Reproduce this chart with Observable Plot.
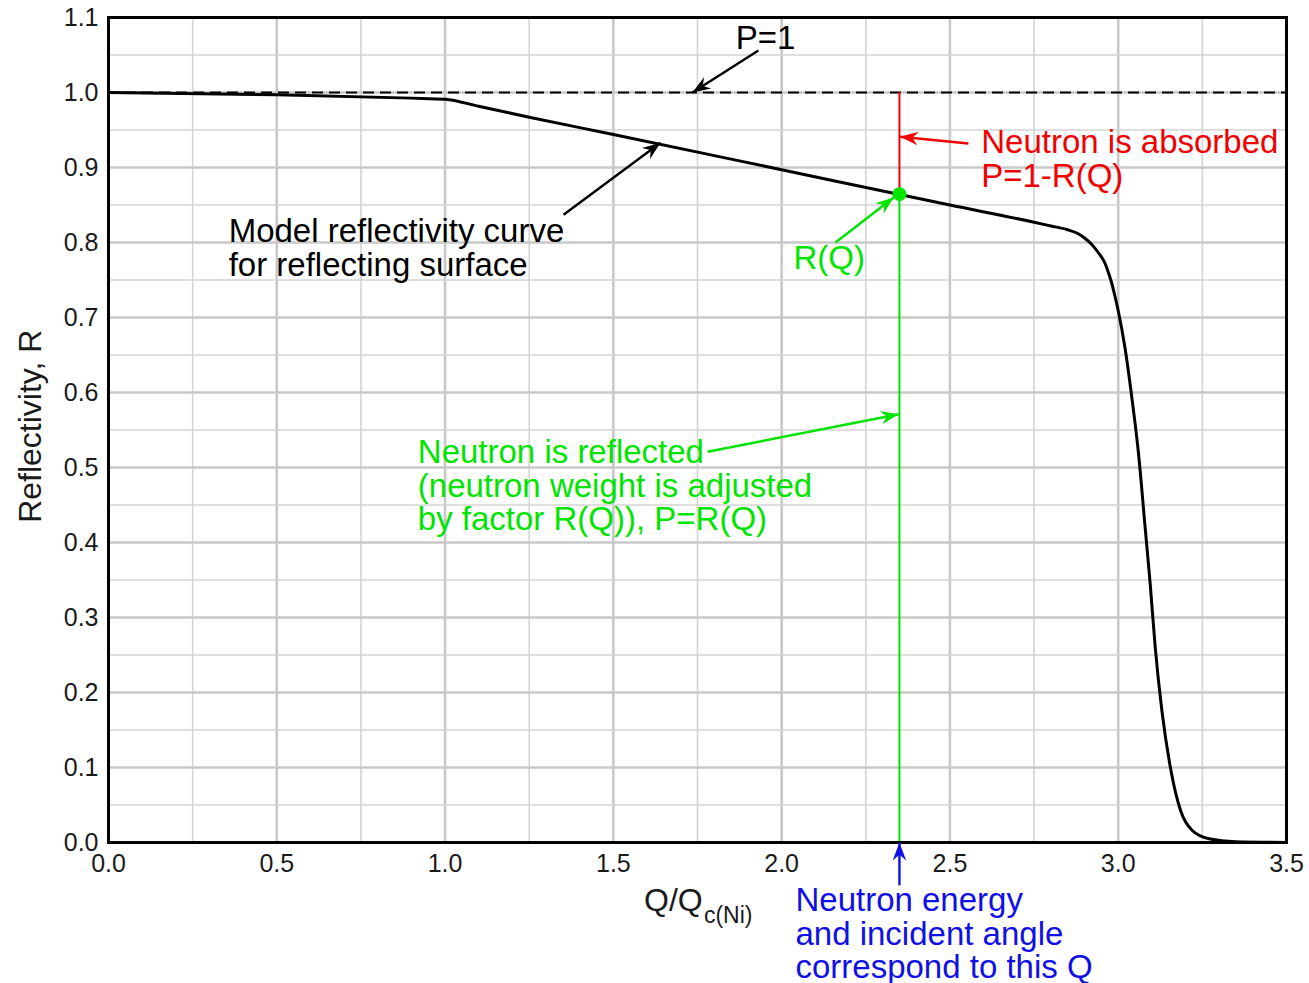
<!DOCTYPE html>
<html>
<head>
<meta charset="utf-8">
<script src="https://cdn.jsdelivr.net/npm/d3@7"></script>
<script src="https://cdn.jsdelivr.net/npm/@observablehq/plot@0.6"></script>
<style>
  html, body { margin: 0; padding: 0; background: white; }
  #chart svg { display: block; }
</style>
</head>
<body>
<div id="chart"></div>
<script>
// Model reflectivity curve R(Q)
const qValues = [0, 0.5, 0.9, 1.0, 1.1, 1.25, 1.5, 2.0, 2.5, 2.75, 2.8, 2.85, 2.88, 2.9, 2.92, 2.94, 2.96, 2.97, 2.98, 2.99, 3.0, 3.02, 3.04, 3.06, 3.08, 3.095, 3.11, 3.13, 3.155, 3.185, 3.22, 3.27, 3.35, 3.5];
const rValues = [1.0, 0.997, 0.9925, 0.991, 0.9816, 0.967, 0.944, 0.897, 0.850, 0.827, 0.822, 0.817, 0.812, 0.806, 0.798, 0.787, 0.773, 0.761, 0.747, 0.729, 0.709, 0.660, 0.595, 0.520, 0.420, 0.345, 0.260, 0.175, 0.100, 0.043, 0.016, 0.005, 0.001, 0.0];

// Axis ticks and grid
const xTicks = [0, 0.5, 1.0, 1.5, 2.0, 2.5, 3.0, 3.5];
const xMinor = [0.25, 0.75, 1.25, 1.75, 2.25, 2.75, 3.25];
const yTicks = [0, 0.1, 0.2, 0.3, 0.4, 0.5, 0.6, 0.7, 0.8, 0.9, 1.0, 1.1];
const yMinor = [0.05, 0.15, 0.25, 0.35, 0.45, 0.55, 0.65, 0.75, 0.85, 0.95, 1.05];

// Selected neutron Q and its reflectivity
const qSel = 2.35;
const rSel = 0.8645;
const pOne = 1.0;

// Annotation arrows (data coordinates: tail -> tip)
const arrows = [
  {x1: 1.931, y1: 1.056, x2: 1.735, y2: 1.0, color: "black"},
  {x1: 1.352, y1: 0.837, x2: 1.640, y2: 0.933, color: "black"},
  {x1: 2.555, y1: 0.932, x2: 2.352, y2: 0.941, color: "red"},
  {x1: 2.160, y1: 0.800, x2: 2.333, y2: 0.860, color: "green"},
  {x1: 1.780, y1: 0.521, x2: 2.348, y2: 0.571, color: "green"},
  {x1: qSel, y1: -0.057, x2: qSel, y2: 0.0, color: "blue"}
];

const curve = qValues.map((q, i) => ({q, r: rValues[i]}));

const GREEN = "#00e400";
const RED = "#f00000";
const BLUE = "#1010e6";
const colorOf = {black: "black", red: RED, green: GREEN, blue: BLUE};
const FONT = "'Liberation Sans', Arial, Helvetica, sans-serif";
const AF = 33; // annotation font size
const LH = 1.02;

const W = 1309, H = 983, ML = 108, MR = 23, MT = 17, MB = 141;
const kx = (W - ML - MR) / 3.5, ky = (H - MT - MB) / 1.1;
// screen angle of each arrow (for orienting the filled heads)
const angleOf = a => Math.atan2(-(a.y2 - a.y1) * ky, (a.x2 - a.x1) * kx) * 180 / Math.PI;

// filled concave arrowhead pointing along +x, tip at origin
const arrowHead = {
  draw(context, size) {
    const s = Math.sqrt(size / Math.PI);
    const L = 2.0 * s, w = 0.75 * s;
    context.moveTo(0, 0);
    context.lineTo(-L, -w);
    context.lineTo(-0.68 * L, 0);
    context.lineTo(-L, w);
    context.closePath();
  }
};

const chart = Plot.plot({
  width: W,
  height: H,
  marginLeft: ML,
  marginRight: MR,
  marginTop: MT,
  marginBottom: MB,
  style: {fontFamily: FONT, fontSize: "25px", color: "#1a1a1a", background: "white", overflow: "visible"},
  x: {domain: [0, 3.5], ticks: xTicks, tickFormat: d3.format(".1f"), tickSize: 0, tickPadding: 12, label: null},
  y: {domain: [0, 1.1], ticks: yTicks, tickFormat: d3.format(".1f"), tickSize: 0, tickPadding: 10, label: null},
  marks: [
    // grid
    Plot.ruleX(xMinor, {stroke: "#d4d4d4", strokeWidth: 1.6}),
    Plot.ruleX(xTicks, {stroke: "#c8c8c8", strokeWidth: 2.6}),
    Plot.ruleY(yMinor, {stroke: "#d4d4d4", strokeWidth: 1.6}),
    Plot.ruleY(yTicks, {stroke: "#c8c8c8", strokeWidth: 2.6}),
    // P = 1 dashed
    Plot.ruleY([pOne], {stroke: "black", strokeWidth: 2.2, strokeDasharray: "11,6"}),
    // red absorbed segment, green reflected segment
    Plot.ruleX([qSel], {y1: rSel, y2: pOne, stroke: RED, strokeWidth: 2}),
    Plot.ruleX([qSel], {y1: 0, y2: rSel, stroke: GREEN, strokeWidth: 2}),
    // reflectivity curve
    Plot.line(curve, {x: "q", y: "r", stroke: "black", strokeWidth: 3, curve: "monotone-x"}),
    Plot.dot([{q: qSel, r: rSel}], {x: "q", y: "r", r: 7, fill: GREEN}),
    // frame
    Plot.frame({stroke: "black", strokeWidth: 3}),
    // annotation arrows: shafts + filled heads
    Plot.link(arrows, {x1: "x1", y1: "y1", x2: "x2", y2: "y2", stroke: d => colorOf[d.color], strokeWidth: 2.4}),
    Plot.dot(arrows, {x: "x2", y: "y2", symbol: arrowHead, r: 9, fill: d => colorOf[d.color], stroke: "none", rotate: angleOf}),
    // annotation texts
    Plot.text(["P=1"], {x: 1.952, y: 1.0727, text: d => d, fontSize: AF, fill: "black", textAnchor: "middle"}),
    Plot.text(["Model reflectivity curve\nfor reflecting surface"], {x: 0.357, y: 0.7927, text: d => d, fontSize: AF, lineHeight: LH, fill: "black", textAnchor: "start"}),
    Plot.text(["Neutron is absorbed\nP=1-R(Q)"], {x: 2.593, y: 0.9113, text: d => d, fontSize: AF, lineHeight: LH, fill: RED, textAnchor: "start"}),
    Plot.text(["R(Q)"], {x: 2.035, y: 0.779, text: d => d, fontSize: AF, fill: GREEN, textAnchor: "start"}),
    Plot.text(["Neutron is reflected\n(neutron weight is adjusted\nby factor R(Q)), P=R(Q)"], {x: 0.919, y: 0.4753, text: d => d, fontSize: AF, lineHeight: LH, fill: GREEN, textAnchor: "start"}),
    Plot.text(["Neutron energy\nand incident angle\ncorrespond to this Q"], {x: 2.041, y: -0.122, text: d => d, fontSize: AF, lineHeight: LH, fill: BLUE, textAnchor: "start"}),
    // axis titles
    Plot.text(["Reflectivity, R"], {x: -0.232, y: 0.555, text: d => d, fontSize: 32, rotate: -90, fill: "#1a1a1a", textAnchor: "middle"}),
    Plot.text(["Q/Q"], {x: 1.591, y: -0.0773, text: d => d, fontSize: 32, fill: "#1a1a1a", textAnchor: "start"}),
    Plot.text(["c(Ni)"], {x: 1.769, y: -0.098, text: d => d, fontSize: 23, fill: "#1a1a1a", textAnchor: "start"})
  ]
});

document.getElementById("chart").appendChild(chart);
</script>
</body>
</html>
